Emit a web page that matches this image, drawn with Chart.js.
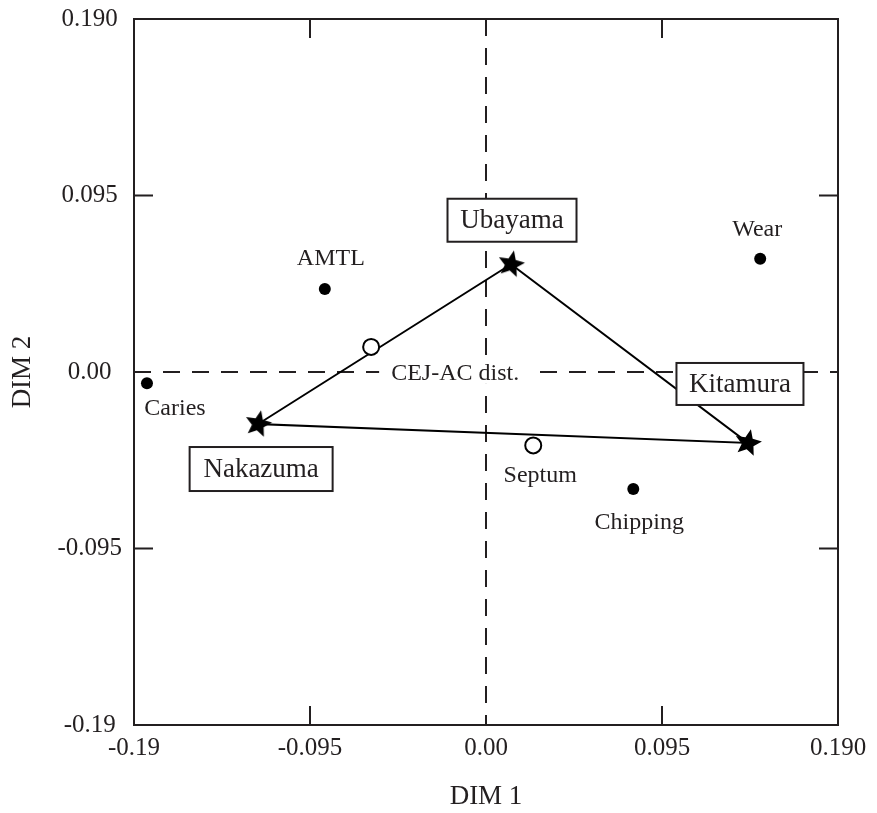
<!DOCTYPE html>
<html lang="en">
<head>
  <meta charset="UTF-8" />
  <title>DIM 1 / DIM 2</title>
  <style>
    html, body { margin: 0; padding: 0; background: #fff; }
    canvas { display: block; }
  </style>
</head>
<body>
  <canvas id="dimChart" width="877" height="813"></canvas>

  <script src="https://cdn.jsdelivr.net/npm/chart.js"></script>
  <script>
    // --- data ---
    const siteNames = ['Ubayama', 'Kitamura', 'Nakazuma'];
    const siteDim1 = [0.0135, 0.1414, -0.1230];
    const siteDim2 = [0.0580, -0.0382, -0.0280];

    const traitNames = ['AMTL', 'Wear', 'Caries', 'Chipping'];
    const traitDim1 = [-0.0870, 0.1480, -0.1830, 0.0795];
    const traitDim2 = [0.0447, 0.0610, -0.0060, -0.0630];

    const metricNames = ['CEJ-AC dist.', 'Septum'];
    const metricDim1 = [-0.0620, 0.0255];
    const metricDim2 = [0.0135, -0.0395];

    const dim1Ticks = [-0.19, -0.095, 0, 0.095, 0.19];
    const dim1TickLabels = ['-0.19', '-0.095', '0.00', '0.095', '0.190'];
    const dim2Ticks = [-0.19, -0.095, 0, 0.095, 0.19];
    const dim2TickLabels = ['-0.19', '-0.095', '0.00', '0.095', '0.190'];

    // label placement (pixel offsets from the marker)
    const labelStyle = {
      'Ubayama':      { dx: 1,  dy: -44, box: true, w: 129, h: 43 },
      'Kitamura':     { dx: -8, dy: -59, box: true, w: 127, h: 42 },
      'Nakazuma':     { dx: 3,  dy: 45,  box: true, w: 143, h: 44 },
      'AMTL':         { dx: 6,  dy: -31 },
      'Wear':         { dx: -3, dy: -30 },
      'Caries':       { dx: 28, dy: 25 },
      'Chipping':     { dx: 6,  dy: 33 },
      'Septum':       { dx: 7,  dy: 29 },
      'CEJ-AC dist.': { dx: 84, dy: 26, clear: true }
    };

    const INK = '#231f20';
    const SERIF = '"Liberation Serif", "Times New Roman", serif';

    function makeStar(r) {
      const c = document.createElement('canvas');
      c.width = c.height = r * 2 + 2;
      const g = c.getContext('2d');
      const cx = c.width / 2, cy = c.height / 2;
      const rot = 12 * Math.PI / 180;
      g.beginPath();
      for (let i = 0; i < 10; i++) {
        const a = -Math.PI / 2 + rot + i * Math.PI / 5;
        const rad = i % 2 === 0 ? r : r * 0.45;
        g.lineTo(cx + rad * Math.cos(a), cy + rad * Math.sin(a));
      }
      g.closePath();
      g.fillStyle = '#000';
      g.fill();
      return c;
    }

    const siteLoop = [0, 1, 2, 0].map(i => ({ x: siteDim1[i], y: siteDim2[i] }));

    const framePlugin = {
      id: 'frame',
      beforeDatasetsDraw(chart) {
        const { ctx, chartArea: a, scales: { x, y } } = chart;
        ctx.save();
        ctx.strokeStyle = INK;
        ctx.lineWidth = 2;
        ctx.strokeRect(a.left, a.top, a.right - a.left, a.bottom - a.top);

        // inward tick marks on all four sides
        ctx.beginPath();
        [-0.095, 0.095].forEach(v => {
          const px = x.getPixelForValue(v);
          ctx.moveTo(px, a.bottom); ctx.lineTo(px, a.bottom - 19);
          ctx.moveTo(px, a.top); ctx.lineTo(px, a.top + 19);
          const py = y.getPixelForValue(v);
          ctx.moveTo(a.left, py); ctx.lineTo(a.left + 19, py);
          ctx.moveTo(a.right, py); ctx.lineTo(a.right - 19, py);
        });
        ctx.stroke();

        // dashed zero lines
        ctx.setLineDash([17, 12]);
        ctx.beginPath();
        const x0 = x.getPixelForValue(0);
        const y0 = y.getPixelForValue(0);
        ctx.moveTo(x0, a.top); ctx.lineTo(x0, a.bottom);
        ctx.moveTo(a.left, y0); ctx.lineTo(a.right, y0);
        ctx.stroke();
        ctx.restore();
      },
      afterDatasetsDraw(chart) {
        const { ctx, scales: { x, y } } = chart;
        ctx.save();
        ctx.textAlign = 'center';
        ctx.textBaseline = 'middle';
        const put = (name, vx, vy) => {
          const s = labelStyle[name];
          const cx = x.getPixelForValue(vx) + s.dx;
          const cy = y.getPixelForValue(vy) + s.dy;
          if (s.box) {
            ctx.fillStyle = '#fff';
            ctx.fillRect(cx - s.w / 2, cy - s.h / 2, s.w, s.h);
            ctx.strokeStyle = INK;
            ctx.lineWidth = 2;
            ctx.strokeRect(cx - s.w / 2, cy - s.h / 2, s.w, s.h);
            ctx.font = '27px ' + SERIF;
          } else {
            ctx.font = '24px ' + SERIF;
          }
          if (s.clear) {
            const w = ctx.measureText(name).width;
            ctx.fillStyle = '#fff';
            ctx.fillRect(cx - w / 2 - 12, cy - 13, w + 24, 24);
          }
          ctx.fillStyle = INK;
          ctx.fillText(name, cx, cy + 1);
        };
        siteNames.forEach((n, i) => put(n, siteDim1[i], siteDim2[i]));
        traitNames.forEach((n, i) => put(n, traitDim1[i], traitDim2[i]));
        metricNames.forEach((n, i) => put(n, metricDim1[i], metricDim2[i]));
        ctx.restore();
      }
    };

    const ctx = document.getElementById('dimChart').getContext('2d');
    const chart = new Chart(ctx, {
      type: 'scatter',
      data: {
        datasets: [
          {
            label: 'Sites',
            data: siteNames.map((n, i) => ({ x: siteDim1[i], y: siteDim2[i] })),
            pointStyle: makeStar(14),
            pointRadius: 14
          },
          {
            label: 'Traits',
            data: traitNames.map((n, i) => ({ x: traitDim1[i], y: traitDim2[i] })),
            pointStyle: 'circle',
            pointRadius: 6,
            pointBackgroundColor: '#000',
            pointBorderColor: '#000',
            pointBorderWidth: 0
          },
          {
            label: 'Metrics',
            data: metricNames.map((n, i) => ({ x: metricDim1[i], y: metricDim2[i] })),
            pointStyle: 'circle',
            pointRadius: 8,
            pointBackgroundColor: '#fff',
            pointBorderColor: '#000',
            pointBorderWidth: 2
          },
          {
            label: 'Triangle',
            data: siteLoop,
            showLine: true,
            borderColor: '#000',
            borderWidth: 2,
            pointRadius: 0,
            fill: false
          }
        ]
      },
      options: {
        responsive: false,
        animation: false,
        events: [],
        layout: { padding: { left: 0, right: 39, top: 19, bottom: 0 } },
        plugins: {
          legend: { display: false },
          tooltip: { enabled: false }
        },
        scales: {
          x: {
            type: 'linear',
            min: -0.19,
            max: 0.19,
            afterBuildTicks: s => { s.ticks = dim1Ticks.map(v => ({ value: v })); },
            afterFit: s => { s.height = 88; s.paddingLeft = 0; s.paddingRight = 0; },
            grid: { display: false, drawTicks: false },
            border: { display: false },
            ticks: {
              padding: 8,
              color: INK,
              font: { family: SERIF, size: 25 },
              callback: v => dim1TickLabels[dim1Ticks.indexOf(v)]
            },
            title: {
              display: true,
              text: 'DIM 1',
              color: INK,
              font: { family: SERIF, size: 27 },
              padding: { top: 0, bottom: 0 }
            }
          },
          y: {
            type: 'linear',
            min: -0.19,
            max: 0.19,
            afterBuildTicks: s => { s.ticks = dim2Ticks.map(v => ({ value: v })); },
            afterFit: s => { s.width = 134; s.paddingTop = 0; s.paddingBottom = 0; },
            grid: { display: false, drawTicks: false },
            border: { display: false },
            ticks: {
              padding: 12,
              crossAlign: 'center',
              color: INK,
              font: { family: SERIF, size: 25 },
              callback: v => dim2TickLabels[dim2Ticks.indexOf(v)]
            },
            title: {
              display: true,
              text: 'DIM 2',
              color: INK,
              font: { family: SERIF, size: 27 },
              padding: { top: 7, bottom: 0 }
            }
          }
        }
      },
      plugins: [framePlugin]
    });
  </script>
</body>
</html>
